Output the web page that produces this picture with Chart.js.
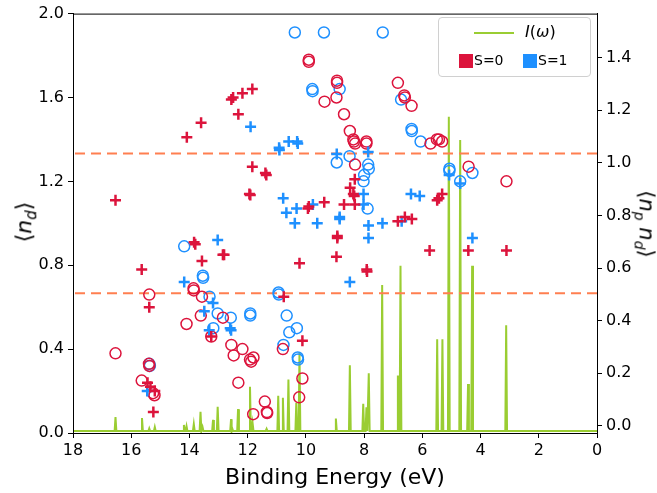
<!DOCTYPE html>
<html>
<head>
<meta charset="utf-8">
<script src="https://cdn.jsdelivr.net/npm/chart.js@4.4.1/dist/chart.umd.min.js"></script>
<style>
    body { margin: 0; background: #fff; }
    #wrap { position: relative; width: 657px; height: 493px; font-family: "DejaVu Sans", sans-serif; color: #000; }
    .axlab { position: absolute; font-size: 21px; white-space: nowrap; transform-origin: center; }
    #legend { position: absolute; left: 438px; top: 17px; width: 151px; height: 58px; border: 1px solid #d0d0d0; border-radius: 4px; background: rgba(255,255,255,0.8); font-size: 14px; }
    #legend .line { position: absolute; left: 35px; top: 14px; width: 40px; height: 2px; background: #9ACD32; }
    #legend .sq { position: absolute; width: 14px; height: 14px; }
    #legend span { position: absolute; white-space: nowrap; }
</style>
</head>
<body>
<div id="wrap">
    <canvas id="chart" width="657" height="493"></canvas>
    <div class="axlab" style="left:26px; top:222px; font-size:22px; transform: translate(-50%,-50%) rotate(-90deg);">⟨<i>n</i><sub style="font-size:15px"><i>d</i></sub>⟩</div>
    <div class="axlab" style="left:645px; top:224px; transform: translate(-50%,-50%) rotate(90deg);">⟨<i>n</i><sub style="font-size:14px"><i>p</i></sub> <i>n</i><sub style="font-size:14px"><i>d</i></sub>⟩</div>
    <div class="axlab" style="left:335px; top:476px; font-size:22px; transform: translate(-50%,-50%);">Binding Energy (eV)</div>
    <div id="legend">
        <div class="line"></div>
        <span style="left:86px; top:4px; font-size:16px;"><i>I</i>(<i>ω</i>)</span>
        <div class="sq" style="left:20px; top:36px; background:#DC143C;"></div>
        <span style="left:35px; top:34px;">S=0</span>
        <div class="sq" style="left:84px; top:36px; background:#1E90FF;"></div>
        <span style="left:99px; top:34px;">S=1</span>
    </div>
</div>
<script>
// tick labels
const xTicks = [18, 16, 14, 12, 10, 8, 6, 4, 2, 0];
const ndTicks = [0.0, 0.4, 0.8, 1.2, 1.6, 2.0];
const npndTicks = [0.0, 0.2, 0.4, 0.6, 0.8, 1.0, 1.2, 1.4];

// S=0 states, <n_d> (circles)
const s0CircleE = [16.54, 15.39, 15.38, 15.64, 15.25, 15.20, 15.38, 14.10, 13.61, 13.86, 13.85, 13.57, 13.25, 12.85, 12.56,
    12.48, 12.18, 12.32, 11.92, 11.88, 11.80, 11.41, 11.81, 11.34, 11.33, 10.79, 10.12, 10.23,
    9.90, 9.90, 8.93, 8.93, 9.36, 8.95, 8.69, 8.49, 8.37, 8.35, 8.31, 7.92, 7.92, 8.31,
    6.84, 6.62, 6.60, 6.37, 5.72, 5.50, 5.43, 5.32, 4.41, 3.11];
const s0CircleN = [0.38, 0.33, 0.32, 0.25, 0.19, 0.18, 0.66, 0.52, 0.56, 0.69, 0.68, 0.65, 0.46, 0.55, 0.42,
    0.37, 0.40, 0.24, 0.35, 0.34, 0.36, 0.15, 0.09, 0.10, 0.095, 0.40, 0.26, 0.17,
    1.78, 1.77, 1.68, 1.67, 1.58, 1.60, 1.52, 1.44, 1.40, 1.39, 1.38, 1.39, 1.38, 1.28,
    1.67, 1.61, 1.60, 1.56, 1.38, 1.40, 1.40, 1.39, 1.27, 1.20];

// S=1 states, <n_d> (circles)
const s1CircleE = [10.38, 9.38, 7.36, 9.78, 9.77, 8.84, 6.73, 6.37, 6.36, 6.06, 8.50, 8.94, 7.86, 7.84, 8.00, 8.02, 7.88,
    5.07, 5.07, 4.70, 4.28, 14.18, 13.54, 13.53, 13.31, 13.03, 13.18, 12.58, 11.91, 11.91,
    15.38, 15.36, 10.94, 10.93, 10.66, 10.31, 10.57, 10.77, 10.28, 10.27];
const s1CircleN = [1.91, 1.91, 1.91, 1.64, 1.63, 1.64, 1.59, 1.45, 1.44, 1.39, 1.32, 1.29, 1.28, 1.26, 1.23, 1.20, 1.07,
    1.26, 1.25, 1.20, 1.24, 0.89, 0.75, 0.74, 0.65, 0.57, 0.50, 0.55, 0.57, 0.56,
    0.33, 0.32, 0.67, 0.66, 0.56, 0.50, 0.48, 0.42, 0.36, 0.35];

// S=0 states, <n_p n_d> (plus)
const s0PlusE = [16.54, 14.09, 13.60, 12.56, 12.50, 12.18, 11.84, 12.32, 11.84, 11.94, 11.91, 11.39, 11.36,
    9.37, 9.90, 9.93, 8.69, 8.92, 8.92, 8.95, 10.22, 7.91, 7.90, 8.32, 8.48, 8.37, 8.34, 8.32,
    10.76, 10.12, 6.84, 6.60, 6.36, 5.75, 5.49, 5.43, 5.32, 4.42, 3.11,
    13.84, 13.80, 12.85, 12.81, 13.57, 15.64, 15.38, 15.44, 15.34, 15.19, 15.24, 13.25];
const s0PlusN = [1.11, 1.41, 1.48, 1.59, 1.60, 1.62, 1.64, 1.52, 1.27, 1.14, 1.135, 1.24, 1.23,
    1.10, 1.08, 1.07, 1.09, 0.94, 0.93, 0.84, 0.81, 0.78, 0.77, 1.21, 1.17, 1.14, 1.13, 1.09,
    0.65, 0.44, 1.01, 1.03, 1.02, 0.87, 1.11, 1.12, 1.14, 0.87, 0.87,
    0.91, 0.90, 0.85, 0.85, 0.82, 0.78, 0.60, 0.24, 0.22, 0.20, 0.10, 0.46];

// S=1 states, <n_p n_d> (plus)
const s1PlusE = [11.90, 10.92, 10.91, 10.59, 10.30, 10.28, 8.94, 7.86, 10.78, 10.67, 10.32, 10.38, 9.76, 9.61,
    8.84, 8.84, 8.02, 8.02, 7.85, 7.85, 7.37, 6.39, 6.09, 6.71, 8.49, 5.08, 4.70, 4.28,
    14.18, 13.03, 13.49, 13.19, 13.32, 12.60, 12.57, 15.45];
const s1PlusN = [1.46, 1.36, 1.35, 1.39, 1.39, 1.38, 1.33, 1.34, 1.12, 1.05, 1.07, 1.00, 1.09, 1.00,
    1.03, 1.02, 1.14, 1.09, 0.99, 0.93, 1.00, 1.14, 1.13, 1.01, 0.72, 1.23, 1.19, 0.93,
    0.72, 0.92, 0.58, 0.62, 0.49, 0.50, 0.49, 0.20];

// I(omega) peaks (right axis)
const peakE = [16.54, 15.63, 15.38, 15.19, 14.19, 14.10, 13.85, 13.62, 13.55, 13.19, 13.03, 12.57, 12.53, 12.33,
    11.92, 11.83, 11.35, 10.95, 10.79, 10.60, 10.33, 10.22, 8.97, 8.49, 8.03, 7.92, 7.84, 7.38,
    6.84, 6.75, 5.49, 5.31, 5.09, 4.70, 4.43, 4.29, 3.12];
const peakI = [0.033, 0.029, -0.01, -0.005, 0.003, -0.002, 0.006, 0.053, -0.005, 0.022, 0.072, 0.025, -0.01, 0.063,
    0.148, 0.009, -0.012, 0.114, 0.106, 0.176, 0.087, 0.28, 0.027, 0.23, 0.083, 0.07, 0.2, 0.535,
    0.191, 0.609, 0.329, 0.329, 1.176, 1.087, 0.159, 0.609, 0.382];
const baseI = -0.02;

// reference levels of <n_d>
const refLevels = [0.667, 1.333];

const RED = '#DC143C', BLUE = '#1E90FF', GREEN = '#9ACD32', CORAL = '#FF7F50';

function pts(xs, ys) {
    return xs.map((x, i) => ({x: x, y: ys[i]}));
}

// spectrum as spikes over a flat baseline
const spectrum = [{x: 18, y: baseI}];
peakE.map((e, i) => [e, peakI[i]])
    .sort((a, b) => b[0] - a[0])
    .forEach(([e, h]) => {
        spectrum.push({x: e + 0.03, y: baseI}, {x: e, y: h}, {x: e - 0.03, y: baseI});
    });
spectrum.push({x: 0, y: baseI});

const frame = {
    id: 'frame',
    afterDraw(chart) {
        const {ctx, chartArea: a} = chart;
        ctx.save();
        ctx.strokeStyle = '#000';
        ctx.lineWidth = 1;
        ctx.strokeRect(a.left + 0.5, a.top + 0.5, a.right - a.left, a.bottom - a.top);
        ctx.restore();
    }
};

const tickFont = {family: '"DejaVu Sans", sans-serif', size: 16};
const axisGrid = {drawOnChartArea: false, tickLength: 5, tickColor: '#000', tickWidth: 1};

const circleStyle = {pointStyle: 'circle', pointRadius: 5.5, borderWidth: 1.5, backgroundColor: 'rgba(0,0,0,0)', showLine: false, yAxisID: 'y', order: 1};
const plusStyle = {pointStyle: 'cross', pointRadius: 5.5, borderWidth: 2.5, showLine: false, yAxisID: 'y', order: 1};

new Chart(document.getElementById('chart'), {
    type: 'scatter',
    data: {
        datasets: [
            {data: spectrum, borderColor: GREEN, borderWidth: 2, pointRadius: 0, showLine: true, yAxisID: 'y2', order: 3},
            ...refLevels.map(v => ({
                data: [{x: 0, y: v}, {x: 18, y: v}],
                borderColor: CORAL, borderWidth: 2, borderDash: [10, 6], pointRadius: 0, showLine: true, yAxisID: 'y', order: 2
            })),
            {...plusStyle, data: pts(s0PlusE, s0PlusN), borderColor: RED},
            {...plusStyle, data: pts(s1PlusE, s1PlusN), borderColor: BLUE},
            {...circleStyle, data: pts(s0CircleE, s0CircleN), borderColor: RED},
            {...circleStyle, data: pts(s1CircleE, s1CircleN), borderColor: BLUE}
        ]
    },
    options: {
        responsive: false,
        animation: false,
        events: [],
        layout: {padding: {top: 12, left: 0, right: 0, bottom: 0}},
        plugins: {legend: {display: false}, tooltip: {enabled: false}},
        scales: {
            x: {
                type: 'linear', reverse: true, min: 0, max: 18,
                afterBuildTicks: s => { s.ticks = xTicks.map(v => ({value: v})); },
                afterFit: s => { s.height = 60; },
                ticks: {font: tickFont, color: '#000', padding: 3, maxRotation: 0, callback: v => String(v)},
                grid: axisGrid,
                border: {color: '#000', width: 1}
            },
            y: {
                position: 'left', min: 0, max: 2,
                afterBuildTicks: s => { s.ticks = ndTicks.map(v => ({value: v})); },
                afterFit: s => { s.width = 73; },
                ticks: {font: tickFont, color: '#000', padding: 4, callback: v => v.toFixed(1)},
                grid: axisGrid,
                border: {color: '#000', width: 1}
            },
            y2: {
                position: 'right', min: -0.0277, max: 1.568,
                afterBuildTicks: s => { s.ticks = npndTicks.map(v => ({value: v})); },
                afterFit: s => { s.width = 60; },
                ticks: {font: tickFont, color: '#000', padding: 4, callback: v => v.toFixed(1)},
                grid: axisGrid,
                border: {color: '#000', width: 1}
            }
        }
    },
    plugins: [frame]
});
</script>
</body>
</html>
